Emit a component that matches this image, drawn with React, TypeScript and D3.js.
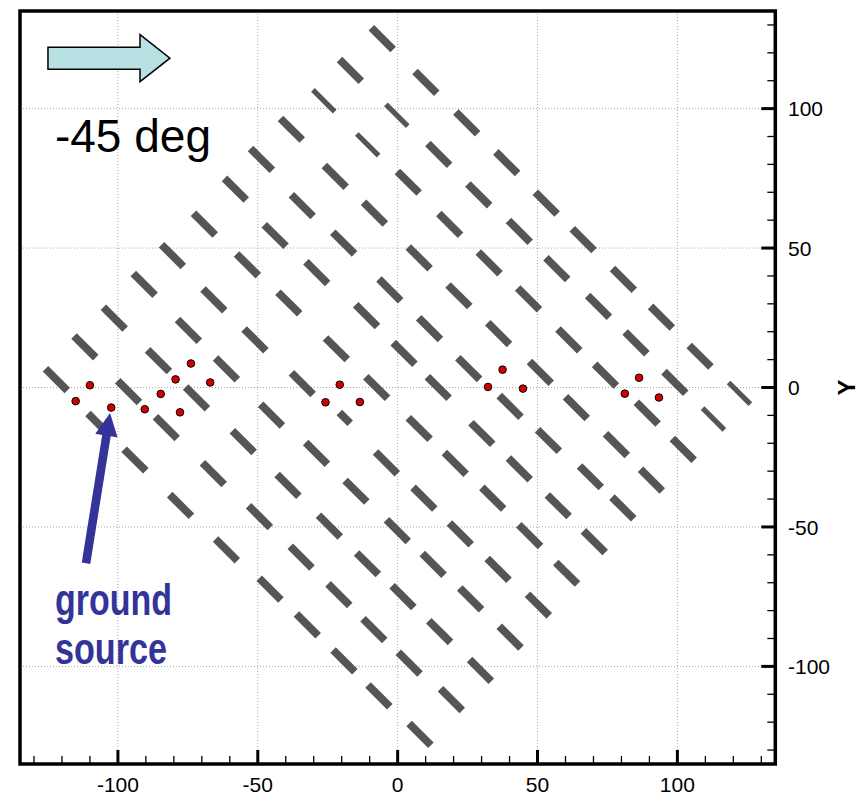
import React from "react";
import * as d3 from "d3";

const W = 863;
const H = 794;

const xDomain = [-135, 135];
const yDomain = [-135, 135];
const xMajor = [-100, -50, 0, 50, 100];
const yMajor = [-100, -50, 0, 50, 100];
const xMinor = d3.range(-130, 131, 10);
const yMinor = d3.range(-130, 131, 10);

// dash centres [x, y], one array per row of the rotated layout
const row01 = [[-5.5, 125.1], [10.1, 109.4], [24.7, 94.9], [39.0, 80.6], [53.1, 66.1], [66.3, 53.0], [80.7, 38.8], [94.3, 25.2], [108.1, 11.2], [122.2, -2.1]];
const row02 = [[-16.9, 113.7], [-0.3, 97.6], [14.7, 83.6], [29.0, 69.1], [43.5, 56.0], [56.9, 42.6], [71.8, 29.1], [85.2, 16.0], [99.1, 1.8], [112.9, -11.3]];
const row03 = [[-26.4, 102.8], [-10.7, 87.0], [3.8, 73.6], [18.6, 58.5], [32.7, 44.7], [46.8, 31.8], [61.2, 17.1], [74.3, 4.4], [89.2, -9.2], [102.1, -22.2]];
const row04 = [[-38.0, 92.6], [-22.3, 75.7], [-8.3, 62.5], [7.7, 46.5], [21.9, 32.9], [36.1, 19.3], [51.0, 5.4], [63.9, -7.2], [78.2, -20.5], [90.7, -33.2]];
const row05 = [[-48.7, 81.8], [-34.1, 65.2], [-19.3, 51.8], [-2.8, 35.0], [11.4, 21.1], [25.4, 6.8], [40.2, -6.8], [53.9, -19.0], [68.9, -32.0], [80.5, -43.2]];
const row06 = [[-58.0, 71.1], [-43.8, 54.5], [-28.9, 41.2], [-11.1, 25.8], [2.3, 12.2], [14.5, 0.0], [30.1, -16.5], [43.5, -29.2], [57.4, -42.4], [70.3, -55.3]];
const row07 = [[-69.1, 58.6], [-53.7, 44.0], [-38.9, 30.3], [-21.9, 13.9], [-7.5, 0.0], [7.7, -14.7], [20.6, -27.2], [34.0, -39.7], [47.2, -53.1], [60.4, -66.6]];
const row08 = [[-80.5, 47.3], [-65.7, 31.4], [-51.0, 17.1], [-34.1, 1.4], [-18.9, -10.9], [-4.0, -27.0], [9.4, -39.7], [22.4, -52.5], [35.9, -65.2], [50.3, -78.0]];
const row09 = [[-90.6, 37.0], [-74.8, 20.5], [-61.2, 6.7], [-45.1, -9.9], [-29.0, -23.6], [-14.9, -37.2], [-0.1, -51.3], [12.7, -63.4], [26.1, -75.8], [40.2, -89.5]];
const row10 = [[-101.3, 24.9], [-85.5, 9.6], [-71.9, -3.7], [-55.2, -19.4], [-39.2, -35.1], [-24.4, -49.7], [-10.8, -63.2], [1.9, -75.0], [15.0, -87.5], [29.6, -101.4]];
const row11 = [[-111.8, 14.6], [-96.2, -1.5], [-82.7, -14.4], [-65.9, -30.9], [-49.4, -46.3], [-34.5, -60.8], [-21.0, -74.3], [-8.5, -86.8], [4.1, -98.8], [19.2, -111.9]];
const row12 = [[-122.0, 2.8], [-106.8, -13.2], [-93.9, -26.0], [-77.6, -42.3], [-61.2, -58.2], [-45.6, -72.3], [-32.3, -85.1], [-19.2, -98.0], [-6.7, -110.6], [8.0, -124.4]];
const dashRows = [row01, row02, row03, row04, row05, row06, row07, row08, row09, row10, row11, row12];

// [row, index] of the dashes drawn thinner, and the one short dash
const thinDashes = [[0, 9], [1, 1], [1, 9], [2, 0], [2, 1]];
const shortDashes = [[7, 4]];
const dashLength = 11;
const shortLength = 5.5;

// ground sources (red dots)
const sources = [
  [-110.0, 0.8], [-115.1, -4.9], [-102.4, -7.2], [-90.4, -7.8], [-84.7, -2.3], [-79.4, 2.9],
  [-73.9, 8.6], [-67.0, 1.8], [-77.8, -8.9], [-20.7, 1.0], [-25.8, -5.3], [-13.5, -5.2],
  [32.3, 0.2], [37.5, 6.4], [44.8, -0.4], [86.3, 3.5], [81.2, -2.2], [93.4, -3.6],
];

const angleLabel = "-45 deg";
const pointerLabel = ["ground", "source"];

const font = "'Liberation Sans', Arial, Helvetica, sans-serif";

const has = (list: number[][], r: number, i: number) => list.some((d) => d[0] === r && d[1] === i);

export default function App() {
  const x = d3.scaleLinear().domain(xDomain).range([20, 775.3]);
  const y = d3.scaleLinear().domain(yDomain).range([764, 11]);
  const left = x(xDomain[0]);
  const right = x(xDomain[1]);
  const top = y(yDomain[1]);
  const bottom = y(yDomain[0]);

  // wind arrow (pixel sizes)
  const wx0 = x(-125.0), wxb = x(-92.1), wxt = x(-81.4), wy = y(118.1);
  const windPts = [
    [wx0, wy - 11], [wxb, wy - 11], [wxb, wy - 23.5], [wxt, wy],
    [wxb, wy + 23.5], [wxb, wy + 11], [wx0, wy + 11],
  ];

  // pointer arrow
  const p0 = [x(-111.4), y(-63.0)];
  const p1 = [x(-102.8), y(-9.1)];
  const len = Math.hypot(p1[0] - p0[0], p1[1] - p0[1]);
  const ux = (p1[0] - p0[0]) / len, uy = (p1[1] - p0[1]) / len;
  const nx = -uy, ny = ux;
  const hb = [p1[0] - ux * 23, p1[1] - uy * 23];
  const sw = 4.3, hw = 11.3;
  const pointerPts = [
    [p0[0] + nx * sw, p0[1] + ny * sw], [hb[0] + nx * sw, hb[1] + ny * sw],
    [hb[0] + nx * hw, hb[1] + ny * hw], p1,
    [hb[0] - nx * hw, hb[1] - ny * hw], [hb[0] - nx * sw, hb[1] - ny * sw],
    [p0[0] - nx * sw, p0[1] - ny * sw],
  ];

  return (
    <svg width={W} height={H} style={{ position: "absolute", left: 0, top: 0, background: "#fff" }} fontFamily={font}>
      {/* grid */}
      {xMajor.map((t) => (
        <line key={"gx" + t} x1={x(t)} x2={x(t)} y1={top} y2={bottom} stroke="#a8a8a8" strokeWidth={1} strokeDasharray="1 2" />
      ))}
      {yMajor.map((t) => (
        <line key={"gy" + t} x1={left} x2={right} y1={y(t)} y2={y(t)} stroke="#a8a8a8" strokeWidth={1} strokeDasharray="1 2" />
      ))}

      {/* dashes */}
      {dashRows.map((row, r) =>
        row.map((d, i) => {
          const L = has(shortDashes, r, i) ? shortLength : dashLength;
          const h = L / (2 * Math.SQRT2);
          return (
            <line
              key={`d${r}-${i}`}
              x1={x(d[0] - h)} y1={y(d[1] + h)} x2={x(d[0] + h)} y2={y(d[1] - h)}
              stroke="#555555"
              strokeWidth={has(thinDashes, r, i) ? 5.2 : 7.8}
            />
          );
        })
      )}

      {/* sources */}
      {sources.map((d, i) => (
        <circle key={"s" + i} cx={x(d[0])} cy={y(d[1])} r={3.8} fill="#d40000" stroke="#000" strokeWidth={1} />
      ))}

      {/* wind direction arrow */}
      <polygon points={windPts.map((p) => p.join(",")).join(" ")} fill="#b9e1e4" stroke="#000" strokeWidth={1.5} />
      <text x={x(-122.5)} y={y(84.3)} fontSize={46} fill="#000">{angleLabel}</text>

      {/* pointer */}
      <polygon points={pointerPts.map((p) => p.join(",")).join(" ")} fill="#333399" />
      <text x={x(-122.5)} y={y(-81.6)} fontSize={44} fontWeight="bold" fill="#333399" textLength={117} lengthAdjust="spacingAndGlyphs">{pointerLabel[0]}</text>
      <text x={x(-122.5)} y={y(-99.3)} fontSize={44} fontWeight="bold" fill="#333399" textLength={112} lengthAdjust="spacingAndGlyphs">{pointerLabel[1]}</text>

      {/* ticks bottom */}
      {xMinor.map((t) => (
        <line key={"mx" + t} x1={x(t)} x2={x(t)} y1={bottom} y2={bottom - 8} stroke="#000" strokeWidth={1.3} />
      ))}
      {xMajor.map((t) => (
        <line key={"Mx" + t} x1={x(t)} x2={x(t)} y1={bottom} y2={bottom - 14} stroke="#000" strokeWidth={3} />
      ))}
      {xMajor.map((t) => (
        <text key={"lx" + t} x={x(t)} y={791.5} fontSize={21} textAnchor="middle" fill="#000">{String(t)}</text>
      ))}

      {/* ticks right */}
      {yMinor.map((t) => (
        <line key={"my" + t} x1={right} x2={right - 8} y1={y(t)} y2={y(t)} stroke="#000" strokeWidth={1.3} />
      ))}
      {yMajor.map((t) => (
        <line key={"My" + t} x1={right} x2={right - 14} y1={y(t)} y2={y(t)} stroke="#000" strokeWidth={3} />
      ))}
      {yMajor.map((t) => (
        <text key={"ly" + t} x={788} y={y(t)} dy="0.36em" fontSize={21} textAnchor="start" fill="#000">{String(t)}</text>
      ))}
      <text transform={`translate(846,${y(0)}) rotate(-90)`} fontSize={24} fontWeight="bold" textAnchor="middle" dy="0.36em" fill="#000">Y</text>

      {/* frame */}
      <rect x={left} y={top} width={right - left} height={bottom - top} fill="none" stroke="#000" strokeWidth={3.5} />
    </svg>
  );
}
